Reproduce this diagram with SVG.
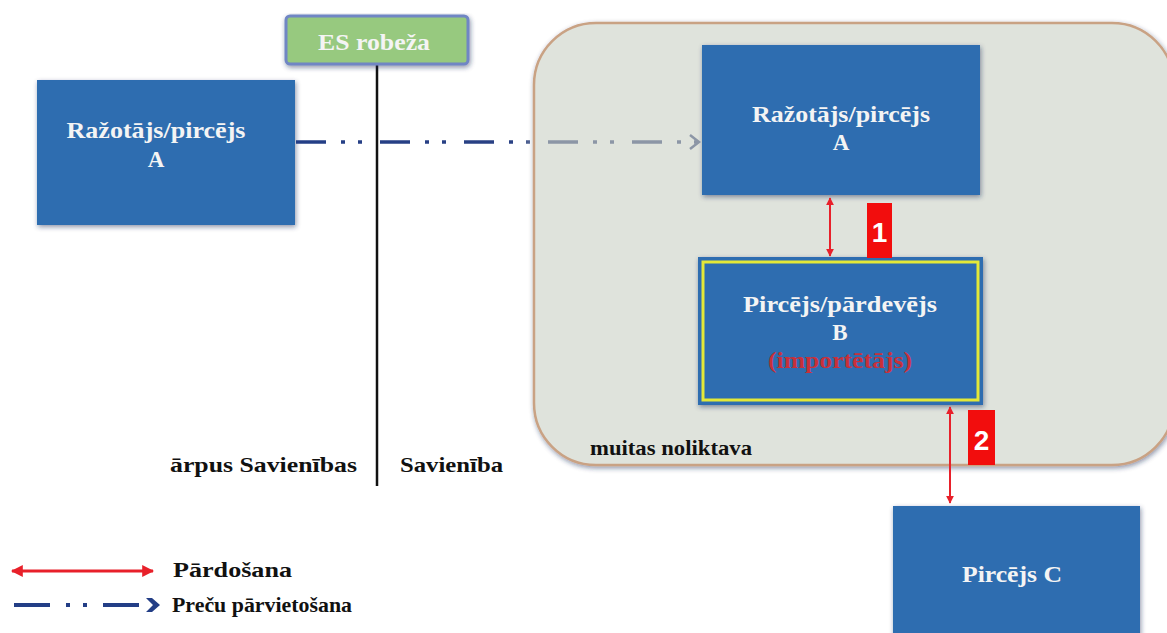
<svg xmlns="http://www.w3.org/2000/svg" width="1167" height="633" viewBox="0 0 1167 633">
<style>
.box{fill:#2e6db0;}
.t{font-family:"Liberation Serif","Times New Roman",serif;font-weight:bold;font-size:23px;fill:#f4f4f4;text-anchor:middle;}
.lbl{font-family:"Liberation Serif","Times New Roman",serif;font-weight:bold;font-size:21px;fill:#111;}
.sale{stroke:#e8202a;stroke-width:2;fill:none;}
.num{font-family:"Liberation Sans",Arial,sans-serif;font-weight:bold;font-size:28px;fill:#fff;text-anchor:middle;}
</style>
<defs>
<filter id="sh" x="-10%" y="-10%" width="120%" height="130%">
<feGaussianBlur in="SourceAlpha" stdDeviation="2.5"/>
<feOffset dx="1" dy="2" result="b"/>
<feFlood flood-color="#1a2a55" flood-opacity="0.5"/>
<feComposite in2="b" operator="in"/>
<feMerge><feMergeNode/><feMergeNode in="SourceGraphic"/></feMerge>
</filter>
<marker id="ra" viewBox="0 0 10 10" refX="9" refY="5" markerWidth="4" markerHeight="4" orient="auto-start-reverse">
<path d="M0,0 L10,5 L0,10 z" fill="#e8202a"/>
</marker>
<linearGradient id="flow" x1="295" y1="0" x2="700" y2="0" gradientUnits="userSpaceOnUse">
<stop offset="0" stop-color="#233e86"/>
<stop offset="0.55" stop-color="#2a4184"/>
<stop offset="0.62" stop-color="#8c96a6"/>
<stop offset="1" stop-color="#8c96a6"/>
</linearGradient>
</defs>
<rect width="1167" height="633" fill="#ffffff"/>

<g id="warehouse">
<rect x="534" y="23" width="640" height="442" rx="62" fill="#dfe3dc" stroke="#c9a284" stroke-width="2.5" filter="url(#sh)"/>
<text class="lbl" x="590" y="455" textLength="162" lengthAdjust="spacingAndGlyphs">muitas noliktava</text>
</g>

<g id="border">
<line x1="377" y1="62" x2="377" y2="486" stroke="#111" stroke-width="2.5"/>
<rect x="286" y="16" width="182" height="48" rx="4" fill="#97c97f" stroke="#6f86c4" stroke-width="3" filter="url(#sh)"/>
<text class="t" x="374" y="50" style="font-size:23px" textLength="112" lengthAdjust="spacingAndGlyphs">ES robeža</text>
<text class="lbl" x="170" y="472" textLength="187" lengthAdjust="spacingAndGlyphs">ārpus Savienības</text>
<text class="lbl" x="400" y="472" textLength="103" lengthAdjust="spacingAndGlyphs">Savienība</text>
</g>

<g id="producer-outside">
<rect class="box" x="37" y="80" width="258" height="145" filter="url(#sh)"/>
<text class="t" x="156" y="138" textLength="179" lengthAdjust="spacingAndGlyphs">Ražotājs/pircējs</text>
<text class="t" x="156" y="167">A</text>
</g>

<g id="producer-inside">
<rect class="box" x="702" y="45" width="278" height="150" filter="url(#sh)"/>
<text class="t" x="841" y="122" textLength="178" lengthAdjust="spacingAndGlyphs">Ražotājs/pircējs</text>
<text class="t" x="841" y="150">A</text>
</g>

<g id="buyer-seller-b">
<rect class="box" x="698" y="257" width="285" height="148" filter="url(#sh)"/>
<rect x="703" y="262" width="275" height="138" fill="none" stroke="#e3e838" stroke-width="3"/>
<text class="t" x="840" y="312" textLength="194" lengthAdjust="spacingAndGlyphs">Pircējs/pārdevējs</text>
<text class="t" x="840" y="340">B</text>
<text class="t" x="840" y="368" style="fill:#c8303a" textLength="144" lengthAdjust="spacingAndGlyphs">(importētājs)</text>
</g>

<g id="buyer-c">
<rect class="box" x="893" y="506" width="247" height="140" filter="url(#sh)"/>
<text class="t" x="1012" y="582" textLength="100" lengthAdjust="spacingAndGlyphs">Pircējs C</text>
</g>

<g id="connectors">
<line x1="296" y1="142" x2="698" y2="142" stroke="url(#flow)" stroke-width="3.5" stroke-dasharray="30,15,4,13,4,18"/>
<path d="M690,135 L699,142 L690,149" fill="none" stroke="#8c96a6" stroke-width="2.5"/>
<line class="sale" x1="830" y1="198" x2="830" y2="256" marker-start="url(#ra)" marker-end="url(#ra)"/>
<line class="sale" x1="950" y1="407" x2="950" y2="503" marker-start="url(#ra)" marker-end="url(#ra)"/>
</g>

<g id="badge-1">
<rect x="867" y="203" width="25" height="55" fill="#f20d0d"/>
<text class="num" x="879.5" y="242">1</text>
</g>
<g id="badge-2">
<rect x="968" y="410" width="27" height="55" fill="#f20d0d"/>
<text class="num" x="981.5" y="450">2</text>
</g>

<g id="legend">
<line x1="12" y1="571" x2="153" y2="571" stroke="#e8202a" stroke-width="3" marker-start="url(#ra)" marker-end="url(#ra)"/>
<text class="lbl" x="173" y="577" textLength="119" lengthAdjust="spacingAndGlyphs">Pārdošana</text>
<line x1="14" y1="605" x2="150" y2="605" stroke="#233e86" stroke-width="4" stroke-dasharray="36,16,4,13,4,16"/>
<path d="M146,598 L152,598 L160,605 L152,612 L146,612 L153,605 z" fill="#233e86"/>
<text class="lbl" x="172" y="612" textLength="180" lengthAdjust="spacingAndGlyphs">Preču pārvietošana</text>
</g>
</svg>
